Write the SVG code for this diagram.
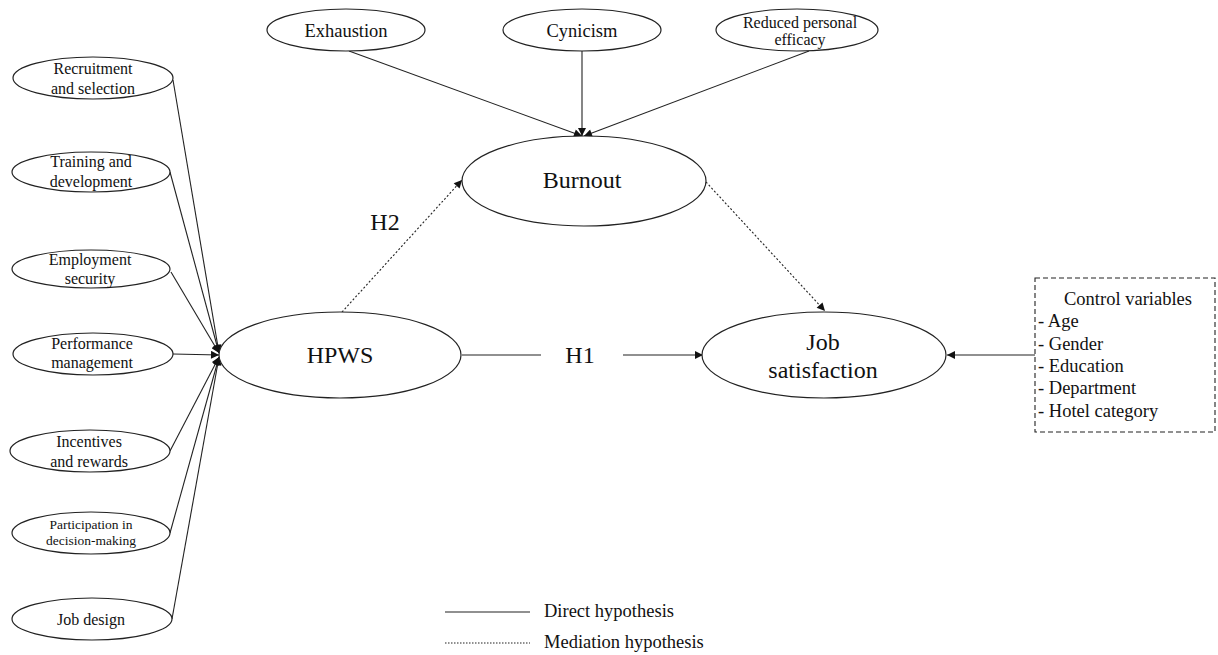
<svg xmlns="http://www.w3.org/2000/svg" width="1218" height="655" viewBox="0 0 1218 655">
<style>
.n{fill:#fff;stroke:#222;stroke-width:1.2}
text{font-family:"Liberation Serif","Times New Roman",serif;fill:#111;text-anchor:middle}
.s{font-size:16px}
.p{font-size:13.5px}
.t{font-size:18.5px}
.b{font-size:24px}
.c{font-size:18.5px}
.l{stroke:#222;stroke-width:1.1;fill:none}
.d{stroke:#222;stroke-width:1.1;fill:none;stroke-dasharray:2,2}
</style>
<defs>
<marker id="ah" viewBox="0 0 10 10" refX="10" refY="5" markerWidth="9" markerHeight="8" markerUnits="userSpaceOnUse" orient="auto">
<path d="M0,0 L10,5 L0,10 z" fill="#111"/>
</marker>
</defs>
<g id="connectors">
<line class="l" x1="173" y1="80" x2="219" y2="353" marker-end="url(#ah)"/>
<line class="l" x1="170" y1="172" x2="219" y2="353" marker-end="url(#ah)"/>
<line class="l" x1="171" y1="272" x2="219" y2="353" marker-end="url(#ah)"/>
<line class="l" x1="173" y1="354" x2="219" y2="355" marker-end="url(#ah)"/>
<line class="l" x1="170" y1="451" x2="219" y2="357" marker-end="url(#ah)"/>
<line class="l" x1="170" y1="533" x2="219" y2="357" marker-end="url(#ah)"/>
<line class="l" x1="172" y1="619" x2="219" y2="357" marker-end="url(#ah)"/>
<line class="l" x1="349" y1="51" x2="582" y2="136" marker-end="url(#ah)"/>
<line class="l" x1="582" y1="51" x2="582" y2="136" marker-end="url(#ah)"/>
<line class="l" x1="809" y1="51" x2="584" y2="136" marker-end="url(#ah)"/>
<line class="d" x1="342" y1="312" x2="462" y2="180" marker-end="url(#ah)"/>
<line class="d" x1="706" y1="182" x2="825" y2="311" marker-end="url(#ah)"/>
<line class="l" x1="462" y1="355" x2="541" y2="355"/>
<line class="l" x1="623" y1="355" x2="703" y2="355" marker-end="url(#ah)"/>
<line class="l" x1="1035" y1="355" x2="947" y2="355" marker-end="url(#ah)"/>
</g>
<g id="recruitment"><ellipse class="n" cx="93" cy="78" rx="80" ry="21"/><text class="s" x="93" y="74">Recruitment</text><text class="s" x="93" y="94">and selection</text></g>
<g id="training"><ellipse class="n" cx="91" cy="172" rx="79" ry="20"/><text class="s" x="91" y="167">Training and</text><text class="s" x="91" y="187">development</text></g>
<g id="employment"><ellipse class="n" cx="91" cy="269" rx="79" ry="19"/><text class="s" x="90" y="265">Employment</text><text class="s" x="90" y="284">security</text></g>
<g id="performance"><ellipse class="n" cx="93" cy="354" rx="80" ry="21"/><text class="s" x="92" y="349">Performance</text><text class="s" x="92" y="368">management</text></g>
<g id="incentives"><ellipse class="n" cx="90" cy="451" rx="80" ry="21"/><text class="s" x="89" y="447">Incentives</text><text class="s" x="89" y="467">and rewards</text></g>
<g id="participation"><ellipse class="n" cx="91" cy="533" rx="79" ry="21"/><text class="p" x="91" y="529">Participation in</text><text class="p" x="91" y="545">decision-making</text></g>
<g id="jobdesign"><ellipse class="n" cx="92" cy="619" rx="80" ry="21"/><text class="s" x="91" y="625">Job design</text></g>
<g id="exhaustion"><ellipse class="n" cx="346" cy="30" rx="79" ry="21"/><text class="t" x="346" y="37">Exhaustion</text></g>
<g id="cynicism"><ellipse class="n" cx="582" cy="30" rx="79" ry="21"/><text class="t" x="582" y="37">Cynicism</text></g>
<g id="reduced"><ellipse class="n" cx="797" cy="30" rx="81" ry="21"/><text class="s" x="800" y="28">Reduced personal</text><text class="s" x="800" y="45">efficacy</text></g>
<g id="burnout"><ellipse class="n" cx="584" cy="181" rx="122" ry="45"/><text class="b" x="582" y="188">Burnout</text></g>
<g id="hpws"><ellipse class="n" cx="340" cy="355" rx="121" ry="43"/><text class="b" x="340" y="363">HPWS</text></g>
<g id="jobsat"><ellipse class="n" cx="824" cy="355" rx="122" ry="43"/><text class="b" x="823" y="350">Job</text><text class="b" x="823" y="378">satisfaction</text></g>
<g id="labels"><text class="b" x="385" y="230">H2</text><text class="b" x="580" y="363">H1</text></g>
<g id="control">
<rect x="1035" y="278" width="180" height="154" fill="none" stroke="#222" stroke-width="1.1" stroke-dasharray="5,3"/>
<text class="c" x="1128" y="305">Control variables</text>
<text class="c" x="1038" y="327" style="text-anchor:start">- Age</text>
<text class="c" x="1038" y="350" style="text-anchor:start">- Gender</text>
<text class="c" x="1038" y="372" style="text-anchor:start">- Education</text>
<text class="c" x="1038" y="394" style="text-anchor:start">- Department</text>
<text class="c" x="1038" y="417" style="text-anchor:start">- Hotel category</text>
</g>
<g id="legend">
<line class="l" x1="445" y1="612" x2="530" y2="612"/>
<text class="t" x="544" y="617" style="text-anchor:start">Direct hypothesis</text>
<line class="d" x1="445" y1="643" x2="530" y2="643" style="stroke-dasharray:1.5,1.5"/>
<text class="t" x="544" y="648" style="text-anchor:start">Mediation hypothesis</text>
</g>
</svg>
